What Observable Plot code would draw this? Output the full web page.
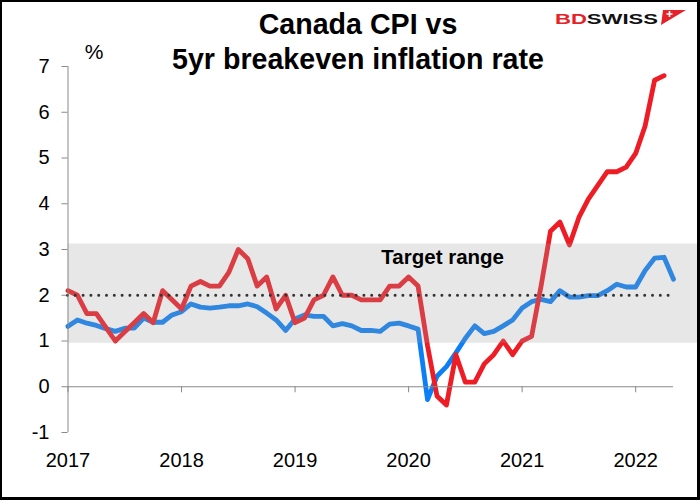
<!DOCTYPE html>
<html>
<head>
<meta charset="utf-8">
<script src="https://cdn.jsdelivr.net/npm/d3@7"></script>
<script src="https://cdn.jsdelivr.net/npm/@observablehq/plot@0.6"></script>
<style>
  body { margin: 0; background: #fff; }
  #wrap { position: relative; width: 700px; height: 500px; overflow: hidden; background: #fff;
          font-family: "Liberation Sans", Arial, sans-serif; }
  #frame { position: absolute; left: 0; top: 0; width: 700px; height: 500px; box-sizing: border-box;
           border-style: solid; border-color: #000; border-width: 2px 3px 3px 2px; pointer-events: none; }
  #wrap svg [aria-label^="y-axis"] line, #wrap svg [aria-label^="y-axis"] path { stroke: #898989; }
</style>
</head>
<body>
<div id="wrap"><div id="frame"></div></div>
<script>
// ---- data ----
const startYear = 2017;
const years = [2017, 2018, 2019, 2020, 2021, 2022];
const yTicks = [-1, 0, 1, 2, 3, 4, 5, 6, 7];

// Canada CPI y/y %, monthly Jan 2017 - Apr 2022
const cpi = [
  2.1, 2.0, 1.6, 1.6, 1.3, 1.0, 1.2, 1.4, 1.6, 1.4, 2.1, 1.9,
  1.7, 2.2, 2.3, 2.2, 2.2, 2.5, 3.0, 2.8, 2.2, 2.4, 1.7, 2.0,
  1.4, 1.5, 1.9, 2.0, 2.4, 2.0, 2.0, 1.9, 1.9, 1.9, 2.2, 2.2,
  2.4, 2.2, 0.9, -0.2, -0.4, 0.7, 0.1, 0.1, 0.5, 0.7, 1.0, 0.7,
  1.0, 1.1, 2.2, 3.4, 3.6, 3.1, 3.7, 4.1, 4.4, 4.7, 4.7, 4.8,
  5.1, 5.7, 6.7, 6.8
];

// 5yr breakeven inflation rate %, monthly Jan 2017 - May 2022
const breakeven = [
  1.32, 1.46, 1.39, 1.34, 1.27, 1.21, 1.28, 1.28, 1.50, 1.41, 1.41, 1.57,
  1.64, 1.81, 1.74, 1.72, 1.74, 1.77, 1.77, 1.81, 1.75, 1.61, 1.46, 1.23,
  1.48, 1.57, 1.54, 1.54, 1.33, 1.38, 1.33, 1.23, 1.23, 1.21, 1.37, 1.39,
  1.33, 1.26, -0.28, 0.23, 0.44, 0.74, 1.06, 1.33, 1.16, 1.21, 1.33, 1.46,
  1.72, 1.86, 1.91, 1.86, 2.10, 1.96, 1.96, 1.99, 1.99, 2.10, 2.24, 2.18,
  2.18, 2.54, 2.81, 2.83, 2.35
];

const targetRange = [{ low: 0.95, high: 3.12 }];
const targetLevel = [2];
const titleLines = ["Canada CPI vs", "5yr breakeven inflation rate"];
const unitLabel = "%";
const bandLabel = "Target range";

// ---- build rows ----
const toRows = arr => arr.map((v, i) => ({ t: startYear + i / 12, v }));
const cpiRows = toRows(cpi);
const beRows = toRows(breakeven);
const xEnd = startYear + (breakeven.length - 1) / 12;

const axisGray = "#898989";
const font = '"Liberation Sans", Arial, sans-serif';

const chart = Plot.plot({
  width: 700,
  height: 500,
  marginTop: 66,
  marginBottom: 68,
  marginLeft: 67.5,
  marginRight: 27,
  style: { fontFamily: font, fontSize: "20px", color: "#000", background: "transparent" },
  x: { domain: [startYear, xEnd], ticks: years, tickFormat: d => String(d), tickSize: 0, tickPadding: 20, label: null },
  y: { domain: [-1, 7], ticks: yTicks, tickFormat: d => String(d), tickSize: 6, tickPadding: 12.5, label: null },
  marks: [
    Plot.line(beRows, { x: "t", y: "v", stroke: "#0b7ff5", strokeWidth: 4.8, strokeLinejoin: "round", strokeLinecap: "round" }),
    Plot.line(cpiRows, { x: "t", y: "v", stroke: "#ee1c25", strokeWidth: 4.8, strokeLinejoin: "round", strokeLinecap: "round" }),
    Plot.rect(targetRange, { x1: () => startYear, x2: () => xEnd, y1: "low", y2: "high", fill: "#a0a0a0", fillOpacity: 0.25, insetRight: -24 }),
    Plot.ruleY(targetLevel, { stroke: "#333", strokeWidth: 3, strokeDasharray: "0 7.8", strokeLinecap: "round" }),
    Plot.ruleX([startYear], { stroke: axisGray }),
    Plot.ruleY([0], { stroke: axisGray }),
    Plot.ruleX(years, { x: d => d, y1: () => 0, y2: () => 0, insetBottom: -6, stroke: axisGray }),
    Plot.text([bandLabel], { x: () => 2019.76, y: () => 2.82, text: d => d, textAnchor: "start", fontWeight: "bold", fontSize: 20.5, fill: "#000" })
  ]
});

document.getElementById("wrap").insertBefore(chart, document.getElementById("frame"));

const svg = d3.select(chart);
// title
titleLines.forEach((t, i) => {
  svg.append("text")
    .attr("x", 358).attr("y", 34 + i * 35)
    .attr("text-anchor", "middle")
    .attr("font-family", font)
    .attr("font-size", 28.6).attr("font-weight", "bold")
    .attr("fill", "#000")
    .text(t);
});
// unit label
svg.append("text")
  .attr("x", 94).attr("y", 59)
  .attr("text-anchor", "middle")
  .attr("font-family", font)
  .attr("font-size", 21)
  .attr("fill", "#000")
  .text(unitLabel);

// logo
const logo = svg.append("g");
const lt = logo.append("text")
  .attr("x", 555).attr("y", 23.5)
  .attr("text-anchor", "start")
  .attr("font-family", font)
  .attr("font-size", 15).attr("font-weight", "bold")
  .attr("textLength", 103).attr("lengthAdjust", "spacingAndGlyphs");
lt.append("tspan").attr("fill", "#e52229").text("BD");
lt.append("tspan").attr("fill", "#111").text("SWISS");
logo.append("polygon").attr("points", "663,10 686,10 661,25").attr("fill", "#e52229");
logo.append("path").attr("d", "M666.5,14 h6 M669.5,11 v6").attr("stroke", "#fff").attr("stroke-width", 1.6);
</script>
</body>
</html>
